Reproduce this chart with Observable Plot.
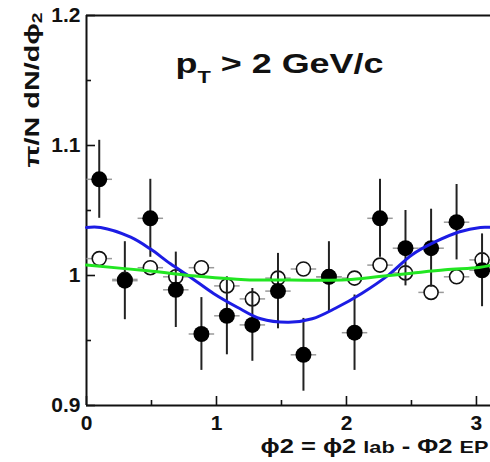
<!DOCTYPE html>
<html>
<head>
<meta charset="utf-8">
<script src="https://cdn.jsdelivr.net/npm/d3@7"></script>
<script src="https://cdn.jsdelivr.net/npm/@observablehq/plot@0.6"></script>
<style>
  html, body { margin: 0; padding: 0; background: #fff; }
  #chart svg { display: block; }
</style>
</head>
<body>
<div id="chart"></div>
<script>
// ---- data ----
const binCenters = [0.098, 0.295, 0.491, 0.687, 0.884, 1.080, 1.276, 1.473, 1.669, 1.865, 2.062, 2.258, 2.454, 2.651, 2.847, 3.043];
const halfBin = 0.098;
const filledY   = [1.074, 0.996, 1.044, 0.989, 0.955, 0.969, 0.962, 0.988, 0.939, 0.999, 0.956, 1.044, 1.021, 1.021, 1.041, 1.004];
const filledErr = [0.030, 0.030, 0.030, 0.029, 0.028, 0.030, 0.028, 0.029, 0.028, 0.027, 0.029, 0.030, 0.029, 0.030, 0.029, 0.028];
const openY     = [1.013, 0.997, 1.006, 0.999, 1.006, 0.992, 0.982, 0.998, 1.005, 0.999, 0.998, 1.008, 1.002, 0.987, 0.999, 1.012];
const openErr   = [0.005, 0.005, 0.005, 0.005, 0.005, 0.005, 0.005, 0.005, 0.005, 0.005, 0.005, 0.005, 0.005, 0.005, 0.005, 0.005];

const blueX = [0, 0.108, 0.34, 0.49, 0.646, 0.80, 0.98, 1.16, 1.34, 1.556, 1.736, 1.915, 2.12, 2.325, 2.505, 2.685, 2.864, 3.03, 3.108];
const blueY = [1.037, 1.037, 1.0295, 1.0205, 1.009, 0.9987, 0.986, 0.9756, 0.9667, 0.964, 0.9667, 0.9748, 0.9864, 1.0005, 1.016, 1.026, 1.0335, 1.037, 1.037];

const greenX = [0, 0.47, 0.88, 1.22, 1.57, 2.0, 2.25, 2.5, 2.76, 3.02, 3.108];
const greenY = [1.008, 1.0036, 0.9992, 0.9967, 0.9965, 0.9967, 0.9992, 1.0018, 1.0044, 1.0062, 1.0077];

const yTicks = [0.9, 1.0, 1.1, 1.2];
const yTickLabels = ["0.9", "1", "1.1", "1.2"];
const yMinor = [0.95, 1.05, 1.15];
const xTicks = [0, 1, 2, 3];
const xTickLabels = ["0", "1", "2", "3"];
const xMinor = [0.5, 1.5, 2.5];

const titleText = "pT > 2 GeV/c";
const yLabelText = "π/N dN/dϕ2";
const xLabelText = "ϕ2 = ϕ2 lab - Φ2 EP";

// ---- tables built from the arrays ----
const filled = binCenters.map((x, i) => ({x, y: filledY[i], e: filledErr[i]}));
const open = binCenters.map((x, i) => ({x, y: openY[i], e: openErr[i]}));
const blue = blueX.map((x, i) => ({x, y: blueY[i]}));
const green = greenX.map((x, i) => ({x, y: greenY[i]}));

const ink = "#111";
const font = "'Liberation Sans', Arial, Helvetica, sans-serif";

const plot = Plot.plot({
  width: 490,
  height: 462,
  marginLeft: 86,
  marginRight: 0,
  marginTop: 15,
  marginBottom: 57,
  x: {domain: [0, 3.108]},
  y: {domain: [0.9, 1.2]},
  style: {fontFamily: font, fontWeight: "bold", background: "#fff", color: ink},
  marks: [
    // frame lines
    Plot.ruleY([1.2], {stroke: ink, strokeWidth: 2}),
    Plot.ruleX([0], {stroke: ink, strokeWidth: 2}),
    Plot.ruleY([0.9], {stroke: ink, strokeWidth: 2}),
    // inward ticks
    Plot.axisY({ticks: yTicks, tickSize: -9, tickFormat: () => "", label: null, strokeWidth: 1.6}),
    Plot.axisY({ticks: yMinor, tickSize: -5, tickFormat: () => "", label: null, strokeWidth: 1.6}),
    Plot.axisX({ticks: xTicks, tickSize: -9, tickFormat: () => "", label: null, strokeWidth: 1.6}),
    Plot.axisX({ticks: xMinor, tickSize: -5, tickFormat: () => "", label: null, strokeWidth: 1.6}),
    // tick labels
    Plot.axisY({ticks: yTicks, tickSize: 0, tickPadding: 6, tickFormat: (d) => yTickLabels[yTicks.indexOf(d)], label: null, fontSize: 21, fill: ink}),
    Plot.axisX({ticks: xTicks, tickSize: 0, tickPadding: 10, tickFormat: (d) => xTickLabels[xTicks.indexOf(d)], label: null, fontSize: 21, fill: ink}),
    // open circles (white inside: error bars hidden by the marker)
    Plot.link(open, {x1: d => d.x - halfBin, x2: d => d.x + halfBin, y1: "y", y2: "y", stroke: "#9a9a9a", strokeWidth: 1.5}),
    Plot.ruleX(open, {x: "x", y1: d => d.y - d.e, y2: d => d.y + d.e, stroke: "#222", strokeWidth: 2}),
    Plot.dot(open, {x: "x", y: "y", r: 7, stroke: "#111", strokeWidth: 1.6, fill: "#fff"}),
    // filled circles
    Plot.link(filled, {x1: d => d.x - halfBin, x2: d => d.x + halfBin, y1: "y", y2: "y", stroke: "#9a9a9a", strokeWidth: 1.5}),
    Plot.ruleX(filled, {x: "x", y1: d => d.y - d.e, y2: d => d.y + d.e, stroke: "#222", strokeWidth: 2}),
    Plot.dot(filled, {x: "x", y: "y", r: 8, fill: "#000", stroke: "none"}),
    // fit curves
    Plot.line(blue, {x: "x", y: "y", stroke: "#1c1ce4", strokeWidth: 3, curve: "catmull-rom"}),
    Plot.line(green, {x: "x", y: "y", stroke: "#22e622", strokeWidth: 3, curve: "catmull-rom"}),
    // annotations
    Plot.text([titleText], {frameAnchor: "top-left", dx: 89, dy: 57, textAnchor: "start", lineAnchor: "bottom", fontSize: 28, fontWeight: "bold", fill: ink}),
    Plot.text([yLabelText], {frameAnchor: "top-left", dx: -54, dy: -3, rotate: -90, textAnchor: "end", lineAnchor: "middle", fontSize: 21, fontWeight: "bold", fill: ink}),
    Plot.text([xLabelText], {frameAnchor: "bottom-right", dx: -2, dy: 47, textAnchor: "end", lineAnchor: "bottom", fontSize: 20, fontWeight: "bold", fill: ink})
  ]
});

document.getElementById("chart").appendChild(plot);

// rich text (subscripts / smaller parts) for the annotation labels
function richText(content, parts, length) {
  const t = Array.from(plot.querySelectorAll("text")).find(e => e.textContent === content);
  if (!t) return;
  while (t.firstChild) t.removeChild(t.firstChild);
  for (const p of parts) {
    const s = document.createElementNS("http://www.w3.org/2000/svg", "tspan");
    s.textContent = p.text;
    if (p.size) s.setAttribute("font-size", p.size);
    if (p.dy) s.setAttribute("dy", p.dy);
    t.appendChild(s);
  }
  if (length) {
    t.setAttribute("textLength", length);
    t.setAttribute("lengthAdjust", "spacingAndGlyphs");
  }
}
richText(titleText, [
  {text: "p"}, {text: "T", size: 17, dy: 10}, {text: " > 2 GeV/c", dy: -10}
], 208);
richText(yLabelText, [
  {text: "π/N dN/dϕ"}, {text: "2", size: 14, dy: 3}
], 155);
richText(xLabelText, [
  {text: "ϕ2 = ϕ2 "}, {text: "lab", size: 17}, {text: " - Φ2 "}, {text: "EP", size: 17}
], 228);
</script>
</body>
</html>
